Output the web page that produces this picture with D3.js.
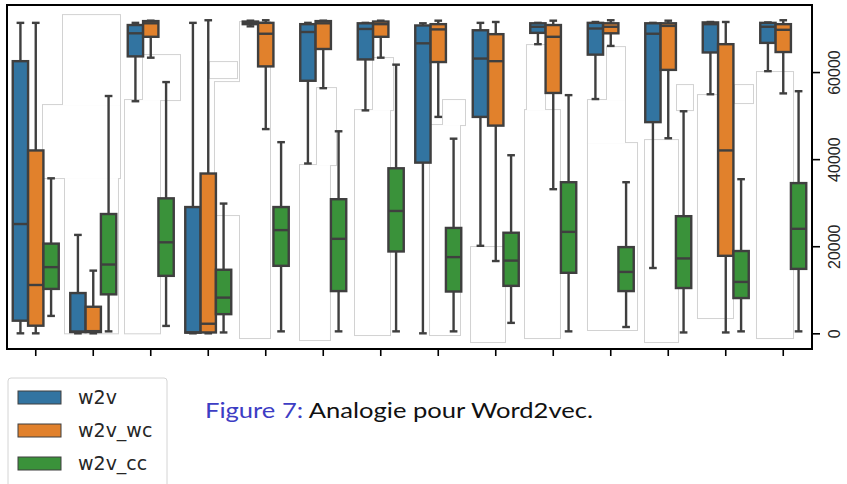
<!DOCTYPE html>
<html>
<head>
<meta charset="utf-8">
<script src="https://cdn.jsdelivr.net/npm/d3@7"></script>
<style>
body { margin: 0; background: #fff; }
svg { display: block; }
</style>
</head>
<body>
<div id="contents"></div>
<script>
// 14 groups, no tick labels on x
const groups = d3.range(14);
const seriesNames = ["w2v", "w2v_wc", "w2v_cc"];
const seriesColors = ["#3274a1", "#e1812c", "#3a923a"];
const yTicks = [0, 20000, 40000, 60000];

// [low whisker, q1, median, q3, high whisker] per group
const w2v = [
    [0, 2900, 25100, 62500, 71300],
    [0, 300, 400, 9250, 22600],
    [53300, 63600, 68900, 70800, 71300],
    [0, 150, 230, 29000, 71300],
    [70500, 71000, 71400, 71600, 71800],
    [39000, 58000, 69200, 71000, 71300],
    [51200, 62900, 69900, 71200, 71300],
    [0, 39200, 66600, 70700, 71200],
    [20100, 49700, 63100, 69600, 71300],
    [66400, 69000, 70400, 71200, 71300],
    [53800, 64000, 70000, 71300, 71500],
    [15000, 48500, 68800, 71200, 71300],
    [54900, 64500, 71000, 71400, 71500],
    [60200, 66700, 70400, 71300, 71400]
];
const w2vWc = [
    [0, 1750, 11100, 42000, 71300],
    [0, 300, 500, 6100, 14400],
    [63300, 68100, 71200, 71700, 71800],
    [0, 200, 2200, 36700, 71900],
    [46900, 61300, 68800, 71300, 71900],
    [56300, 65300, 71200, 71700, 71800],
    [63300, 68100, 71000, 71600, 71800],
    [49700, 62300, 69800, 71000, 71800],
    [16600, 47700, 62500, 68700, 71500],
    [33100, 55200, 68100, 70800, 71800],
    [66000, 68900, 70400, 71200, 71900],
    [44800, 60500, 70600, 71200, 71800],
    [200, 17800, 42000, 66400, 71500],
    [55100, 64600, 69700, 71000, 71900]
];
const w2vCc = [
    [4000, 10200, 15200, 20600, 35600],
    [450, 8950, 15800, 27400, 54500],
    [1700, 13200, 20900, 31000, 57700],
    [200, 4400, 8200, 14600, 29800],
    [450, 15500, 23700, 29000, 43900],
    [450, 9700, 21700, 30800, 46400],
    [450, 18800, 28100, 37900, 61700],
    [450, 9600, 17500, 24200, 44700],
    [2400, 10900, 16700, 23100, 40900],
    [450, 13900, 23300, 34700, 54700],
    [1450, 9700, 14100, 19800, 34700],
    [200, 10400, 17200, 26900, 51000],
    [450, 8100, 11800, 18900, 35400],
    [450, 14800, 24000, 34500, 55600]
];
const allStats = [w2v, w2vWc, w2vCc];

// faint white background blobs: [group pos from, group pos to, value low, value high]
const ghostShapes = [
    [[0.474, 1.465, 52420, 73080], [0.126, 1.465, 35660, 52420], [0.509, 1.430, 0, 35660]],
    [[1.865, 2.509, 53570, 63900], [1.552, 2.161, 0, 53570]],
    [[3.030, 3.500, 58620, 62290], [3.117, 3.552, 27160, 57700], [3.552, 4.074, -1080, 71470]],
    [[4.891, 5.222, 38640, 56320], [4.596, 5.117, -1540, 38640]],
    [[5.865, 6.213, 51270, 63210], [5.552, 6.161, -390, 51270]],
    [[7.083, 7.465, 47830, 53570], [6.857, 7.378, -390, 47830]],
    [[7.570, 8.161, -2000, 19810]],
    [[8.543, 8.857, 51270, 66190], [8.509, 9.117, -1080, 51270]],
    [[9.935, 10.248, 53570, 65730], [9.604, 10.248, 43690, 53570], [9.604, 10.457, 760, 43690]],
    [[11.152, 11.430, 51270, 57010], [10.596, 11.170, -2000, 44380]],
    [[12.161, 12.474, 52880, 57010], [11.517, 12.126, 3510, 54710]],
    [[12.543, 13.170, -1080, 60000]]
];

const width = 847, height = 484,
    frame = {left: 7, top: 5, right: 812, bottom: 349},
    lineColor = "#3f3f3f";

function createScales() {
    var x = d3.scaleBand()
            .domain(groups)
            .range([frame.left, frame.right]);

    // continuous position in group units, used for the background blobs
    var xg = d3.scaleLinear()
            .domain([-0.5, groups.length - 0.5])
            .range([frame.left, frame.right]);

    var hue = d3.scaleBand()
            .domain(seriesNames)
            .range([x.bandwidth() * 0.1, x.bandwidth() * 0.9]);

    var y = d3.scaleLinear()
            .domain([-3600, 75400])
            .range([frame.bottom, frame.top]);

    return {x: x, xg: xg, hue: hue, y: y};
}

function createSvg() {
    return d3.select("#contents").append("svg")
            .attr("width", width)
            .attr("height", height)
            .attr("font-family", "DejaVu Sans, sans-serif");
}

function drawGhosts(svg, sc) {
    var rects = ghostShapes.flat();
    var g = svg.append("g").attr("class", "ghosts");
    // stroke pass then fill pass so only the outer outline of each union stays
    [true, false].forEach(function(outline) {
        g.selectAll(null)
            .data(rects)
            .enter().append("rect")
                .attr("x", d => sc.xg(d[0]))
                .attr("width", d => sc.xg(d[1]) - sc.xg(d[0]))
                .attr("y", d => sc.y(d[3]))
                .attr("height", d => sc.y(d[2]) - sc.y(d[3]))
                .attr("fill", "#fff")
                .attr("stroke", outline ? "#d2d2d2" : "none")
                .attr("stroke-width", outline ? 2 : 0);
    });
}

function drawBoxes(svg, sc) {
    var bw = sc.hue.bandwidth();
    seriesNames.forEach(function(name, s) {
        var g = svg.append("g").attr("class", "series-" + name);
        allStats[s].forEach(function(d, i) {
            var x0 = sc.x(groups[i]) + sc.hue(name),
                cx = x0 + bw / 2,
                bg = g.append("g")
                    .attr("stroke", lineColor)
                    .attr("stroke-width", 2.4);
            // whiskers
            bg.append("line")
                .attr("x1", cx).attr("x2", cx)
                .attr("y1", sc.y(d[0])).attr("y2", sc.y(d[1]));
            bg.append("line")
                .attr("x1", cx).attr("x2", cx)
                .attr("y1", sc.y(d[3])).attr("y2", sc.y(d[4]));
            // caps
            [d[0], d[4]].forEach(function(v) {
                bg.append("line")
                    .attr("x1", cx - bw / 4).attr("x2", cx + bw / 4)
                    .attr("y1", sc.y(v)).attr("y2", sc.y(v));
            });
            bg.append("rect")
                .attr("x", x0)
                .attr("y", sc.y(d[3]))
                .attr("width", bw)
                .attr("height", sc.y(d[1]) - sc.y(d[3]))
                .attr("fill", seriesColors[s]);
            bg.append("line")
                .attr("x1", x0).attr("x2", x0 + bw)
                .attr("y1", sc.y(d[2])).attr("y2", sc.y(d[2]));
        });
    });
}

function drawAxes(svg, sc) {
    var xAxis = d3.axisBottom(sc.x)
            .tickSize(7)
            .tickFormat("");

    var yAxis = d3.axisRight(sc.y)
            .tickValues(yTicks)
            .tickSize(8)
            .tickFormat(d3.format("d"));

    var gx = svg.append("g")
            .attr("class", "x axis")
            .attr("transform", "translate(0," + frame.bottom + ")")
            .call(xAxis);
    gx.select(".domain").remove();
    gx.selectAll("line").attr("stroke", "#000").attr("stroke-width", 1.6);

    var gy = svg.append("g")
            .attr("class", "y axis")
            .attr("transform", "translate(" + frame.right + ",0)")
            .call(yAxis);
    gy.select(".domain").remove();
    gy.selectAll("line").attr("stroke", "#000").attr("stroke-width", 1.6);
    gy.selectAll("text")
            .attr("x", 0).attr("dy", null)
            .attr("transform", "translate(22,0) rotate(-90)")
            .attr("text-anchor", "middle")
            .attr("dominant-baseline", "central")
            .attr("font-size", 16)
            .attr("fill", "#262626");

    svg.append("rect")
            .attr("x", frame.left)
            .attr("y", frame.top)
            .attr("width", frame.right - frame.left)
            .attr("height", frame.bottom - frame.top)
            .attr("fill", "none")
            .attr("stroke", "#000")
            .attr("stroke-width", 2);
}

function drawLegend(svg) {
    var lg = svg.append("g").attr("class", "legend");
    lg.append("rect")
            .attr("x", 8).attr("y", 378)
            .attr("width", 159).attr("height", 120)
            .attr("rx", 3)
            .attr("fill", "#fff")
            .attr("stroke", "#d4d4d4");
    seriesNames.forEach(function(name, i) {
        var yy = 391 + i * 33;
        lg.append("rect")
            .attr("x", 18).attr("y", yy)
            .attr("width", 43).attr("height", 13)
            .attr("fill", seriesColors[i])
            .attr("stroke", lineColor)
            .attr("stroke-width", 1);
        lg.append("text")
            .attr("x", 78).attr("y", yy + 13)
            .attr("font-size", 19)
            .attr("fill", "#262626")
            .text(name);
    });
}

function drawCaption(svg) {
    var t = svg.append("text")
            .attr("x", 205).attr("y", 418)
            .attr("font-family", "Lato, sans-serif")
            .attr("font-size", 21)
            .attr("textLength", 388)
            .attr("lengthAdjust", "spacingAndGlyphs");
    t.append("tspan").attr("fill", "#3d3dc4").text("Figure 7:");
    t.append("tspan").attr("fill", "#111").text(" Analogie pour Word2vec.");
}

const sc = createScales();
const svg = createSvg();
drawGhosts(svg, sc);
drawBoxes(svg, sc);
drawAxes(svg, sc);
drawLegend(svg);
drawCaption(svg);
</script>
</body>
</html>
